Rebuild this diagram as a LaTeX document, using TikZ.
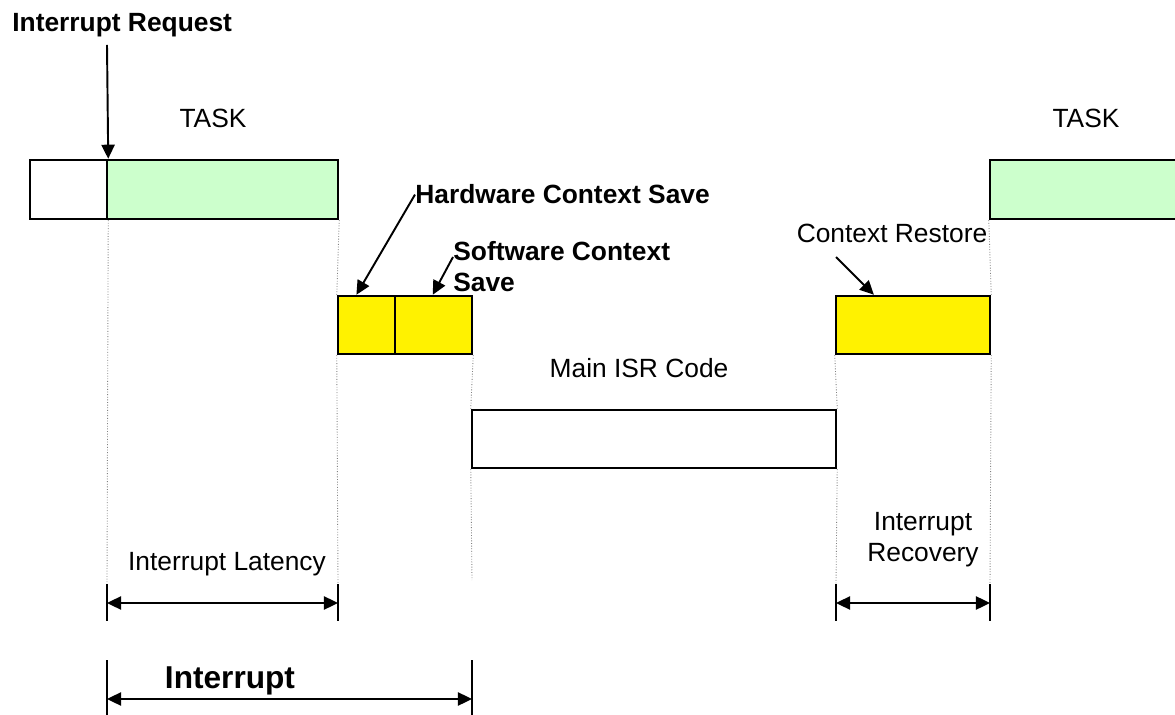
\documentclass[tikz,border=0pt]{standalone}
\usepackage{fontspec}
\setmainfont{Liberation Sans}
\usetikzlibrary{arrows.meta,fit,calc}
\definecolor{taskgreen}{HTML}{CCFFCC}

\begin{document}
\begin{tikzpicture}[x=0.02cm,y=-0.02cm,
    box/.style={draw,line width=1.4pt,inner sep=0pt},
    taskbox/.style={box,fill=taskgreen},
    savebox/.style={box,fill=yellow},
    guide/.style={densely dotted,gray,line width=0.5pt},
    arr/.style={-{Triangle[length=8pt,width=7.5pt]},line width=1.1pt},
    span/.style={{Triangle[length=8pt,width=7.5pt]}-{Triangle[length=8pt,width=7.5pt]},line width=1.1pt},
    tick/.style={line width=1.5pt},
    lbl/.style={font=\fontsize{15}{17.5}\selectfont,inner sep=0pt},
    blbl/.style={lbl,font=\fontsize{15}{17.5}\selectfont\bfseries}]
      \useasboundingbox (0,0) rectangle (1175,715);

      % task before and after the interrupt
      \node[box, fit={(30,160) (107,219)}] (pre) {};
      \node[taskbox, fit={(107,160) (338,219)}] (task1) {};
      \node[taskbox, fit={(990,160) (1182,219)}] (task2) {};

      % context save, isr, restore
      \node[savebox, fit={(338,296) (395,354)}] (hw) {};
      \node[savebox, fit={(395,296) (472,354)}] (sw) {};
      \node[savebox, fit={(836,296) (990,354)}] (restore) {};
      \node[box, fit={(472,410) (836,468)}] (isr) {};

      % labels
      \node[blbl, anchor=base west] (reqlbl) at (12,32) {Interrupt Request};
      \node[lbl, anchor=base] (tasklbl1) at (213,128) {TASK};
      \node[lbl, anchor=base] (tasklbl2) at (1086,128) {TASK};
      \node[blbl, anchor=base west] (hwlbl) at (415,204) {Hardware Context Save};
      \node[blbl, anchor=north west, align=left] (swlbl) at (453,241) {Software Context\\Save};
      \node[lbl, anchor=base] (restorelbl) at (892,243) {Context Restore};
      \node[lbl, anchor=base] (isrlbl) at (639,378) {Main ISR Code};
      \node[lbl, anchor=base] (latlbl) at (227,570) {Interrupt Latency};
      \node[lbl, anchor=north, align=center] (reclbl) at (923,512) {Interrupt\\Recovery};
      \node[lbl, font=\fontsize{18}{21}\selectfont\bfseries, anchor=base] (intlbl) at (230,688) {Interrupt};

      % pointers
      \coordinate (reqtop) at (107,45);
      \coordinate (restorefoot) at (836,257);
      \draw[arr] (reqtop) -- (pre.north east);
      \draw[arr] (hwlbl.west) -- ($(hw.north west)!0.33!(hw.north east)$);
      \draw[arr] ($(swlbl.north west)+(0,16)$) -- ($(sw.north west)!0.49!(sw.north east)$);
      \draw[arr] (restorefoot) -- ($(restore.north west)!0.25!(restore.north east)$);

      % dotted guides
      \draw[guide] (pre.south east) -- (107,584);
      \draw[guide] (task1.south east) -- (hw.north west);
      \draw[guide] (hw.south west) -- (338,584);
      \draw[guide] (sw.south east) -- (isr.north west);
      \draw[guide] (isr.south west) -- (472,580);
      \draw[guide] (restore.south west) -- (isr.north east);
      \draw[guide] (isr.south east) -- (836,584);
      \draw[guide] (task2.south west) -- (restore.north east);
      \draw[guide] (restore.south east) -- (990,584);

      % time spans
      \foreach \x in {107, 338, 836, 990} {
          \draw[tick] (\x, 584) -- (\x, 621);
      }
      \foreach \x in {107, 472} {
          \draw[tick] (\x, 660) -- (\x, 715);
      }
      \draw[span] (107, 603) -- (338, 603);
      \draw[span] (836, 603) -- (990, 603);
      \draw[span] (107, 699) -- (472, 699);
  \end{tikzpicture}
\end{document}
